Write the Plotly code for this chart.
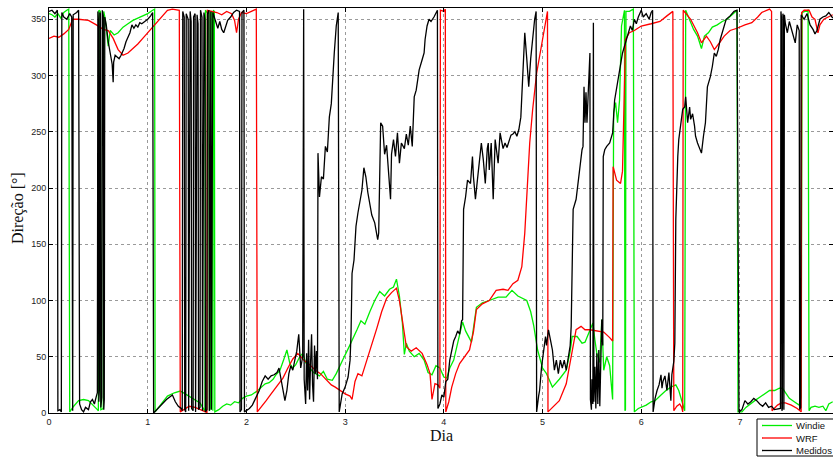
import plotly.graph_objects as go

# Wind direction (degrees, 0-360) over the days of the campaign.
# Each series keeps its sample times (dia_*) and directions (dir_*).

dia_windie = [
    0.00, 0.03, 0.06, 0.09, 0.12, 0.15, 0.18, 0.20,
    0.21, 0.25, 0.30, 0.35, 0.40, 0.45, 0.49, 0.50,
    0.505, 0.52, 0.525, 0.55, 0.555,
    0.57, 0.59, 0.60, 0.62, 0.66, 0.70, 0.75, 0.80, 0.85, 0.90, 0.95, 1.00, 1.05, 1.07,
    1.075, 1.10, 1.15, 1.20, 1.27, 1.33, 1.38, 1.45, 1.50, 1.53, 1.57, 1.58,
    1.585, 1.61, 1.62, 1.625, 1.635, 1.64, 1.655, 1.66, 1.665, 1.675, 1.68,
    1.72, 1.76, 1.80, 1.84, 1.88, 1.92, 1.96, 2.00, 2.05, 2.10, 2.14, 2.19, 2.23,
    2.27, 2.30, 2.34, 2.38, 2.41, 2.44, 2.47, 2.50, 2.54, 2.57, 2.60, 2.64, 2.68,
    2.74, 2.78, 2.82, 2.87, 2.91, 2.94, 2.98, 3.03, 3.08, 3.12, 3.16, 3.20, 3.25,
    3.30, 3.35, 3.40, 3.45, 3.49, 3.52, 3.55, 3.58, 3.60, 3.62, 3.65, 3.70, 3.75,
    3.80, 3.84, 3.88, 3.92, 3.96, 4.00, 4.03, 4.06, 4.10, 4.14, 4.19, 4.22, 4.28,
    4.33, 4.39, 4.46, 4.55, 4.63, 4.69, 4.75, 4.84, 4.88, 4.91, 4.95, 5.00, 5.04,
    5.10, 5.17, 5.24, 5.28, 5.30, 5.35, 5.40, 5.43, 5.47, 5.51, 5.53, 5.55, 5.58,
    5.60, 5.62, 5.65, 5.68, 5.70, 5.71,
    5.72, 5.74, 5.76, 5.78, 5.80, 5.82, 5.83,
    5.835, 5.84, 5.845, 5.88, 5.92,
    5.93, 5.97, 6.00, 6.05, 6.10, 6.14, 6.20, 6.25, 6.30, 6.35, 6.38, 6.42, 6.44,
    6.45, 6.50, 6.53, 6.57, 6.61, 6.64, 6.68, 6.72, 6.77, 6.82, 6.87, 6.92, 6.97,
    6.98, 7.02, 7.06, 7.10, 7.15, 7.20, 7.25, 7.30, 7.35, 7.40, 7.43, 7.46, 7.50,
    7.55, 7.60, 7.62,
    7.63, 7.66, 7.69,
    7.70, 7.72, 7.76, 7.80, 7.84, 7.87, 7.90, 7.94,
]
dir_windie = [
    355, 354, 352, 355, 351, 356, 358, 359,
    1, 6, 11, 12, 11, 7, 3, 2,
    358, 357, 3, 4, 357,
    350, 335, 326, 340, 336, 338, 343, 346, 349, 351, 353, 355, 358, 359,
    1, 4, 10, 15, 18, 19.5, 17, 13, 10, 9, 3, 1,
    358, 355, 357, 2, 4, 357, 356, 2, 358, 357, 1,
    3, 6, 8, 7, 10, 9, 13, 15, 16, 19, 22, 26, 27,
    30, 34, 38, 48, 56, 44, 40, 43, 50, 53, 45, 40, 36,
    33, 37, 30, 29, 35, 40, 48, 57, 66, 74, 82, 79, 90,
    100, 108, 104, 110, 112, 119, 104, 80, 52, 62, 55, 50, 53,
    47, 36, 34, 42, 40, 32, 31, 40, 47, 62, 81, 73, 63,
    94, 98, 100, 103, 103, 109, 104, 100, 90, 78, 56, 40, 35,
    23, 30, 38, 55, 68, 68, 62, 63, 72, 80, 65, 53, 45,
    83, 38, 50, 42, 25, 12,
    267, 276, 258, 278, 344, 352, 358,
    2, 3, 357, 357, 359,
    1, 4, 5, 7, 10, 11, 16, 20, 23, 25, 20, 8, 2,
    358, 347, 341, 335, 324, 335, 338, 343, 345, 348, 350, 354, 358,
    1, 1, 5, 8, 11, 14, 17, 20, 20, 22, 22, 18, 13,
    10, 7, 14,
    356, 357, 358,
    2, 5, 6, 5, 6, 2, 8, 10,
]

dia_wrf = [
    0.00, 0.05, 0.10, 0.15, 0.20, 0.24, 0.30, 0.40, 0.48, 0.55, 0.60, 0.65, 0.70,
    0.75, 0.80, 0.85, 0.90, 0.95, 1.00, 1.05, 1.10, 1.15, 1.20, 1.25, 1.32,
    1.33, 1.38, 1.42, 1.48, 1.53, 1.58, 1.60,
    1.605, 1.65, 1.70, 1.75, 1.80, 1.85, 1.88, 1.90, 1.92, 1.95, 2.00, 2.05, 2.10,
    2.11, 2.15, 2.20, 2.25, 2.30, 2.37, 2.42, 2.47, 2.52, 2.58, 2.64, 2.70, 2.75,
    2.80, 2.86, 2.90, 2.95, 3.00, 3.05, 3.07, 3.10, 3.13, 3.17, 3.22, 3.27, 3.32,
    3.37, 3.42, 3.47, 3.52, 3.55, 3.58, 3.62, 3.67, 3.72, 3.78, 3.83, 3.86, 3.88,
    3.91, 3.94, 3.96,
    3.965, 4.00, 4.015,
    4.02, 4.05, 4.08, 4.12, 4.16, 4.21, 4.26, 4.30, 4.33, 4.39, 4.46, 4.53, 4.60,
    4.65, 4.70, 4.75, 4.79, 4.82, 4.84, 4.87, 4.90, 4.94, 5.00, 5.03, 5.05,
    5.055, 5.10, 5.17, 5.24, 5.30, 5.34, 5.39, 5.43, 5.48, 5.55, 5.62, 5.68, 5.71,
    5.715, 5.75, 5.79, 5.81, 5.84, 5.88, 5.93, 6.00, 6.10, 6.19, 6.26, 6.32,
    6.33, 6.36, 6.39, 6.41, 6.42,
    6.425, 6.50, 6.57, 6.61, 6.66, 6.70, 6.74, 6.80, 6.84, 6.90, 6.97, 7.05, 7.12,
    7.18, 7.22, 7.30, 7.32,
    7.325, 7.38, 7.42, 7.46, 7.52, 7.58, 7.62,
    7.625, 7.65, 7.70, 7.73, 7.76, 7.79, 7.81, 7.85, 7.90, 7.94,
]
dir_wrf = [
    333, 335, 334, 337, 341, 350, 350, 349, 345, 341, 340, 333, 323,
    318, 320, 324, 328, 333, 338, 344, 349, 353, 358, 359, 358,
    1, 4, 6, 5, 3, 1, 0.5,
    358, 357, 356, 354, 357, 355, 349, 338, 350, 356, 355, 357, 359,
    1, 5, 11, 17, 23, 31, 40, 48, 53, 47, 43, 38, 35,
    30, 25, 23, 20, 17, 15, 12, 28, 35, 33, 47, 59, 75,
    90, 102, 107, 111, 100, 83, 59, 55, 58, 53, 43, 35, 12,
    26, 25, 22,
    358, 357, 359,
    1, 10, 23, 35, 44, 50, 56, 72, 92, 97, 100, 109, 110,
    109, 115, 118, 130, 160, 195, 240, 270, 302, 332, 348, 357,
    1, 5, 11, 26, 53, 74, 77, 74, 74, 73, 72, 67, 64,
    219, 207, 204, 215, 332, 338, 340, 344, 346, 348, 353, 357,
    2, 6, 8, 5, 1,
    358, 350, 338, 329, 335, 330, 323, 330, 335, 340, 342, 345, 347,
    352, 356, 359, 357,
    2, 7, 9, 9, 7, 4, 1,
    356, 358, 358, 352, 350, 338, 345, 350, 352, 354,
]

dia_medidos = [
    0.00, 0.03, 0.06, 0.085,
    0.09, 0.11, 0.125,
    0.13, 0.15, 0.18, 0.21, 0.23,
    0.24, 0.245, 0.28, 0.30,
    0.31, 0.33, 0.35, 0.37, 0.40, 0.42, 0.44, 0.46, 0.48, 0.49,
    0.495, 0.50, 0.505, 0.51, 0.515, 0.52, 0.525, 0.535, 0.54, 0.55, 0.555, 0.56,
    0.565, 0.58, 0.60, 0.62, 0.64, 0.65, 0.655, 0.67, 0.69, 0.71, 0.73, 0.76, 0.78,
    0.80, 0.82, 0.84, 0.86, 0.88, 0.90, 0.92, 0.94, 0.97, 1.00, 1.03, 1.05,
    1.06, 1.09, 1.12, 1.15, 1.19, 1.22, 1.25, 1.28, 1.31, 1.34, 1.35,
    1.355, 1.37, 1.375, 1.385, 1.39, 1.41, 1.415, 1.43, 1.44, 1.445, 1.46, 1.465,
    1.48, 1.485, 1.50, 1.51, 1.515, 1.53, 1.535, 1.55, 1.555, 1.57, 1.58, 1.585,
    1.60, 1.605, 1.62, 1.625, 1.64, 1.645,
    1.66, 1.68, 1.71, 1.73, 1.75, 1.77, 1.79, 1.81, 1.84, 1.87, 1.90, 1.93,
    1.935, 1.95, 1.955, 1.975,
    1.98, 2.00, 2.03, 2.06, 2.10, 2.13, 2.16, 2.19, 2.22, 2.25, 2.28, 2.31, 2.33,
    2.35, 2.37, 2.39, 2.41, 2.43, 2.45, 2.47, 2.49, 2.51, 2.53, 2.55, 2.57,
    2.58,
    2.585, 2.60, 2.61, 2.62, 2.63, 2.64, 2.65, 2.66, 2.67, 2.68, 2.69, 2.70, 2.71, 2.72,
    2.725, 2.74, 2.76, 2.78, 2.80, 2.82, 2.84, 2.86, 2.89, 2.91, 2.93,
    2.94, 2.97, 3.00, 3.03, 3.05, 3.06, 3.07, 3.09, 3.11, 3.13, 3.17, 3.19, 3.21,
    3.23, 3.25, 3.27, 3.30, 3.32, 3.33, 3.34, 3.36, 3.38, 3.40, 3.42, 3.44, 3.46,
    3.47, 3.49, 3.51, 3.53, 3.55, 3.57, 3.60, 3.62, 3.64, 3.66, 3.68, 3.69, 3.70,
    3.72, 3.75, 3.78, 3.80, 3.81, 3.83, 3.85, 3.87, 3.90, 3.92, 3.935,
    3.94, 3.96, 3.98, 4.00, 4.02, 4.04, 4.06, 4.08, 4.10, 4.12, 4.14, 4.16, 4.18, 4.19,
    4.20, 4.22, 4.24, 4.27, 4.29, 4.30, 4.32, 4.34, 4.36, 4.38, 4.40, 4.42, 4.44,
    4.45, 4.46, 4.48, 4.50, 4.52, 4.55, 4.57, 4.60, 4.62, 4.64, 4.66, 4.68, 4.70,
    4.72, 4.74, 4.76, 4.78, 4.80, 4.82, 4.84, 4.86, 4.88, 4.90, 4.92, 4.935,
    4.94, 4.96, 4.97, 4.99, 5.01, 5.03, 5.04, 5.06, 5.08, 5.10, 5.12, 5.14, 5.16,
    5.18, 5.20, 5.22, 5.24, 5.26, 5.28, 5.29, 5.30, 5.31, 5.34, 5.37, 5.40, 5.41,
    5.42, 5.43, 5.44, 5.45, 5.47, 5.48,
    5.485, 5.495, 5.50, 5.51, 5.515, 5.52, 5.53, 5.54, 5.55, 5.56, 5.57, 5.58,
    5.59, 5.60, 5.61,
    5.615, 5.63, 5.65, 5.68, 5.71, 5.73, 5.76, 5.79, 5.81, 5.85, 5.87, 5.89, 5.91,
    5.93, 5.95, 5.97, 6.00, 6.02, 6.05, 6.08, 6.10, 6.115,
    6.12, 6.14, 6.16, 6.18, 6.20, 6.21, 6.22, 6.24, 6.26, 6.28, 6.30, 6.31, 6.33, 6.34,
    6.35, 6.36, 6.37, 6.38, 6.40, 6.42, 6.44, 6.45, 6.47, 6.49, 6.50, 6.52, 6.54,
    6.55, 6.57, 6.59, 6.61, 6.63, 6.65, 6.67, 6.70, 6.72, 6.74, 6.76, 6.78, 6.80,
    6.83, 6.86, 6.90, 6.94, 6.97,
    6.99, 7.02, 7.05, 7.08, 7.11, 7.14, 7.17, 7.20, 7.23, 7.26, 7.29, 7.32, 7.35, 7.41,
    7.415, 7.42, 7.425, 7.43, 7.435, 7.44, 7.445,
    7.45, 7.46, 7.48, 7.50, 7.52, 7.54, 7.56, 7.58, 7.60,
    7.605, 7.615,
    7.62, 7.65, 7.68, 7.71, 7.74, 7.76, 7.78, 7.81, 7.84, 7.87, 7.90, 7.94,
]
dir_medidos = [
    357, 358, 355, 358,
    2, 3, 1,
    356, 352, 350, 355, 352,
    2, 354, 356, 358,
    8, 3, 1, 5, 3, 10, 12, 8, 15, 18,
    357, 350, 10, 20, 356, 355, 5, 14, 358, 353, 3, 12,
    352, 345, 330, 320, 310, 294, 312, 318, 316, 315, 318, 324, 330,
    334, 338, 345, 342, 345, 343, 347, 346, 348, 350, 353, 356,
    0, 3, 5, 8, 12, 14, 16, 10, 6, 4, 2,
    357, 352, 3, 1, 355, 350, 2, 357, 348, 4, 2, 352,
    355, 1, 354, 346, 3, 5, 358, 352, 2, 356, 350, 1,
    3, 355, 358, 2, 357, 3,
    356, 350, 342, 348, 341, 338, 344, 349, 352, 356, 358, 357,
    1, 3, 356, 358,
    1, 2, 4, 7, 15, 20, 28, 33, 30, 33, 34, 36, 40,
    30, 20, 11, 20, 35, 42, 38, 47, 55, 70, 40, 50,
    359,
    30, 8, 53, 20, 65, 12, 45, 70, 25, 10, 60, 35, 55, 30,
    231, 192, 210, 208, 237, 232, 263, 275, 320, 344, 356,
    1, 17, 23, 32, 47, 71, 124, 136, 166, 178, 198, 218, 210,
    196, 184, 176, 169, 157, 154, 160, 258, 255, 230, 238, 215, 190,
    230, 243, 228, 249, 222, 240, 235, 248, 238, 255, 237, 263, 281,
    287, 305, 314, 320, 332, 344, 350, 348, 352, 356, 358,
    4, 8, 16, 14, 28, 30, 47, 55, 64, 68, 73, 70, 82, 83,
    181, 192, 207, 204, 228, 210, 190, 207, 225, 240, 225, 204, 235,
    240, 216, 240, 190, 243, 222, 249, 235, 240, 236, 242, 247, 248,
    250, 246, 252, 263, 308, 338, 315, 290, 315, 335, 350, 357,
    1, 15, 20, 41, 53, 68, 60, 74, 65, 56, 38, 47, 35,
    47, 40, 47, 38, 50, 60, 77, 118, 181, 190, 213, 234, 237,
    290, 258, 285, 258, 311, 320,
    12, 3, 30, 8, 347, 10, 41, 4, 53, 8, 56, 6,
    45, 83, 60,
    228, 234, 237, 240, 249, 278, 293, 308, 320, 332, 338, 344, 340,
    350, 346, 352, 358, 352, 355, 350, 356, 358,
    1, 13, 20, 25, 34, 22, 28, 33, 20, 36, 11, 34, 46, 62,
    172, 204, 228, 243, 258, 270, 272, 281, 258, 272, 261, 266, 255,
    246, 240, 236, 231, 246, 258, 290, 299, 308, 320, 317, 323, 332,
    341, 350, 353, 357, 358,
    1, 3, 11, 8, 10, 13, 11, 8, 6, 9, 5, 6, 3, 4,
    357, 352, 2, 4, 355, 350, 3,
    354, 346, 338, 348, 342, 336, 329, 345, 340,
    3, 5,
    354, 350, 355, 345, 341, 337, 340, 350, 352, 353, 356, 351,
]

dia_ticks = [0, 1, 2, 3, 4, 5, 6, 7]
dir_ticks = [0, 50, 100, 150, 200, 250, 300, 350]

series = [
    ("Windie", dia_windie, dir_windie, "rgb(0,238,0)"),
    ("WRF", dia_wrf, dir_wrf, "rgb(255,0,0)"),
    ("Medidos", dia_medidos, dir_medidos, "rgb(0,0,0)"),
]

fig = go.Figure()
for name, xs, ys, color in series:
    fig.add_trace(go.Scatter(
        x=xs, y=ys, name=name, mode="lines",
        line=dict(color=color, width=1.3),
        showlegend=False,
    ))

W, H = 833, 457
ML, MR, MT, MB = 49, 0, 8, 44
plot_w = W - ML - MR
plot_h = H - MT - MB
px_per_day = 98.71
x_max = plot_w / px_per_day


def paper_x(px):
    return (px - ML) / plot_w


def paper_y(py):
    return ((H - MB) - py) / plot_h


tick_font = dict(family="Liberation Sans, Arial, sans-serif", size=9, color="#222")
axis_common = dict(
    showline=True, linecolor="black", linewidth=1, mirror="ticks",
    ticks="inside", ticklen=4, tickcolor="black", tickwidth=1,
    showgrid=True, gridcolor="#9a9a9a", gridwidth=1, griddash="dot",
    zeroline=False, tickfont=tick_font,
)

fig.update_xaxes(range=[0, x_max], tickvals=dia_ticks,
                 ticktext=[str(t) for t in dia_ticks], **axis_common)
fig.update_yaxes(range=[0, 360], tickvals=dir_ticks,
                 ticktext=[str(t) for t in dir_ticks], **axis_common)

title_font = dict(family="Liberation Serif, Times New Roman, serif", size=16, color="#111")
fig.add_annotation(text="Dia", xref="paper", yref="paper",
                   x=paper_x(441), y=paper_y(436),
                   xanchor="center", yanchor="middle", showarrow=False, font=title_font)
fig.add_annotation(text="Direção [°]", xref="paper", yref="paper",
                   x=paper_x(18), y=paper_y(208),
                   xanchor="center", yanchor="middle", textangle=-90,
                   showarrow=False, font=title_font)

# Legend box below the lower-right corner of the axes
legend_font = dict(family="Liberation Sans, Arial, sans-serif", size=9.5, color="#111")
fig.add_shape(type="rect", xref="paper", yref="paper",
              x0=paper_x(757), x1=paper_x(840), y0=paper_y(456), y1=paper_y(419),
              line=dict(color="black", width=1), fillcolor="white", layer="above")
row_y = [425.5, 438, 450.5]
for (name, _, _, color), ry in zip(series, row_y):
    fig.add_shape(type="line", xref="paper", yref="paper",
                  x0=paper_x(762), x1=paper_x(792), y0=paper_y(ry), y1=paper_y(ry),
                  line=dict(color=color, width=1.3), layer="above")
    fig.add_annotation(text=name, xref="paper", yref="paper",
                       x=paper_x(794), y=paper_y(ry), xanchor="left", yanchor="middle",
                       showarrow=False, font=legend_font)

fig.update_layout(
    width=W, height=H,
    margin=dict(l=ML, r=MR, t=MT, b=MB, pad=0, autoexpand=False),
    paper_bgcolor="white", plot_bgcolor="white",
    showlegend=False,
)

fig.write_html("out.html")
